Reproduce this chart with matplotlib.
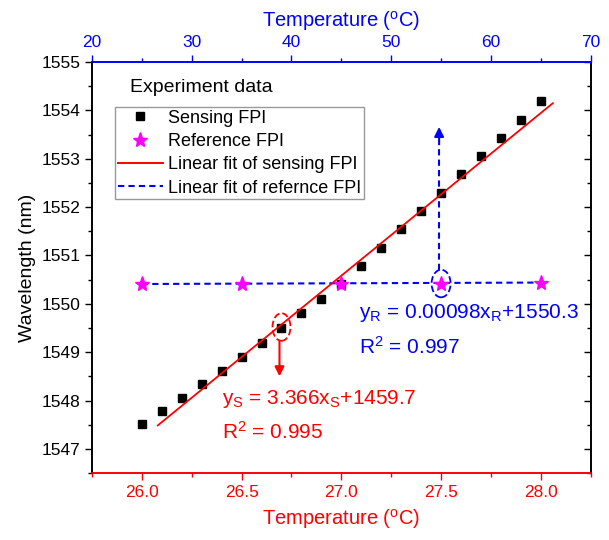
import matplotlib
matplotlib.use("Agg")
import matplotlib.pyplot as plt
from matplotlib.patches import Ellipse
from matplotlib.lines import Line2D
from matplotlib.ticker import MultipleLocator

plt.rcParams['font.family'] = ['Liberation Sans', 'DejaVu Sans']
plt.rcParams['mathtext.default'] = 'regular'

RED = '#ff0000'
BLUE = '#0000ff'
MAGENTA = '#ff00ff'

# sensing FPI (bottom axis temperature, wavelength in nm)
sens_t = [26.0, 26.1, 26.2, 26.3, 26.4, 26.5, 26.6, 26.7, 26.8, 26.9, 27.0,
          27.1, 27.2, 27.3, 27.4, 27.5, 27.6, 27.7, 27.8, 27.9, 28.0]
sens_wl = [1547.51, 1547.78, 1548.06, 1548.34, 1548.62, 1548.90, 1549.20,
           1549.50, 1549.80, 1550.10, 1550.40, 1550.78, 1551.15, 1551.54,
           1551.92, 1552.29, 1552.68, 1553.06, 1553.43, 1553.81, 1554.20]

# reference FPI
ref_t = [26.0, 26.5, 27.0, 27.5, 28.0]
ref_wl = [1550.41, 1550.41, 1550.41, 1550.42, 1550.44]

# linear fits as printed on the chart
fit_s_slope = 3.366
fit_s_icpt = 1459.7
fit_s_range = [26.08, 28.06]
fit_r_wl = [1550.41, 1550.44]

fig = plt.figure(figsize=(6.09, 5.40), dpi=100)
ax = fig.add_axes([0.151, 0.124, 0.819, 0.761])

ax.plot(sens_t, sens_wl, 's', color='black', ms=6, zorder=4)
ax.plot(ref_t, ref_wl, '*', color=MAGENTA, ms=11, zorder=5)
fx = fit_s_range
fy = [fit_s_slope * v + fit_s_icpt for v in fx]
ax.plot(fx, fy, '-', color=RED, lw=1.3, zorder=4.5)
ax.plot([ref_t[0], ref_t[-1]], fit_r_wl, '--', color=BLUE, lw=1.5,
        dashes=(3, 2), zorder=3)

# legend (title sits above the frame)
handles = [
    Line2D([], [], ls='none', marker='s', color='black', ms=6),
    Line2D([], [], ls='none', marker='*', color=MAGENTA, ms=11),
    Line2D([], [], ls='-', color=RED, lw=1.4),
    Line2D([], [], ls='--', color=BLUE, lw=1.5, dashes=(3, 2)),
]
labels = ['Sensing FPI', 'Reference FPI', 'Linear fit of sensing FPI',
          'Linear fit of refernce FPI']
leg = ax.legend(handles, labels, loc='upper left', bbox_to_anchor=(0.046, 0.891),
                borderaxespad=0, fontsize=13, frameon=True, fancybox=False,
                handlelength=2.5, handletextpad=0.3, borderpad=0.15,
                labelspacing=0.35)
leg.get_frame().set_edgecolor('#808080')
leg.get_frame().set_linewidth(1.0)
ax.text(0.077, 0.937, 'Experiment data', transform=ax.transAxes, fontsize=14,
        va='center', ha='left')

# annotations
ax.add_patch(Ellipse((26.70, 1549.52), 0.09, 0.57, fill=False, ec=RED,
                     ls='--', lw=1.3, zorder=6))
ax.annotate('', xy=(26.69, 1548.50), xytext=(26.69, 1549.22),
            arrowprops=dict(arrowstyle='-|>', color=RED, lw=1.5,
                            mutation_scale=14, shrinkA=0, shrinkB=0))
ax.add_patch(Ellipse((27.50, 1550.42), 0.095, 0.57, fill=False, ec=BLUE,
                     ls='--', lw=1.3, zorder=6))
ax.plot([27.49, 27.49], [1550.70, 1553.3], '--', color=BLUE, lw=1.5,
        dashes=(3, 2))
ax.annotate('', xy=(27.49, 1553.66), xytext=(27.49, 1553.3),
            arrowprops=dict(arrowstyle='-|>', color=BLUE, lw=1.5,
                            mutation_scale=14, shrinkA=0, shrinkB=0))

ax.text(27.09, 1549.80, '$y_R$ = 0.00098$x_R$+1550.3', color=BLUE,
        fontsize=15, va='center', ha='left')
ax.text(27.09, 1549.12, '$R^2$ = 0.997', color=BLUE, fontsize=15,
        va='center', ha='left')
ax.text(26.40, 1548.03, '$y_S$ = 3.366$x_S$+1459.7', color=RED,
        fontsize=15, va='center', ha='left')
ax.text(26.40, 1547.35, '$R^2$ = 0.995', color=RED, fontsize=15,
        va='center', ha='left')

# axes styling
ax.set_xlim(25.75, 28.25)
ax.set_ylim(1546.5, 1555)
ax.xaxis.set_minor_locator(MultipleLocator(0.25))
ax.yaxis.set_major_locator(MultipleLocator(1))
ax.yaxis.set_minor_locator(MultipleLocator(0.5))
ax.set_xticks([26.0, 26.5, 27.0, 27.5, 28.0])
ax.set_xticklabels(['26.0', '26.5', '27.0', '27.5', '28.0'])
ax.tick_params(axis='y', which='both', direction='out', right=True,
               labelsize=12.5, colors='black')
ax.tick_params(axis='y', which='major', length=5, width=1)
ax.tick_params(axis='y', which='minor', length=3, width=1)
ax.tick_params(axis='x', which='both', direction='out', colors=RED,
               labelsize=12.5, top=False)
ax.tick_params(axis='x', which='major', length=5, width=1)
ax.tick_params(axis='x', which='minor', length=3, width=1)
ax.spines['bottom'].set_color(RED)
ax.spines['top'].set_color(BLUE)
for s in ax.spines.values():
    s.set_linewidth(1.2)
ax.set_xlabel('Temperature ($^o$C)', color=RED, fontsize=14.5, labelpad=5)
ax.set_ylabel('Wavelength (nm)', fontsize=14, labelpad=4)

# right ticks point inward
for t in ax.yaxis.get_major_ticks() + ax.yaxis.get_minor_ticks():
    t.tick2line.set_marker(matplotlib.lines.TICKLEFT)

ax2 = ax.twiny()
ax2.set_xlim(20, 70)
ax2.xaxis.set_major_locator(MultipleLocator(10))
ax2.xaxis.set_minor_locator(MultipleLocator(5))
ax2.tick_params(axis='x', which='both', direction='out', colors=BLUE,
                labelsize=12.5)
ax2.tick_params(axis='x', which='major', length=5, width=1)
ax2.tick_params(axis='x', which='minor', length=3, width=1)
ax2.spines['top'].set_color(BLUE)
ax2.spines['bottom'].set_color(RED)
for s in ax2.spines.values():
    s.set_linewidth(1.2)
ax2.set_xlabel('Temperature ($^o$C)', color=BLUE, fontsize=14.5, labelpad=6)

fig.savefig('out.png', dpi=100)
